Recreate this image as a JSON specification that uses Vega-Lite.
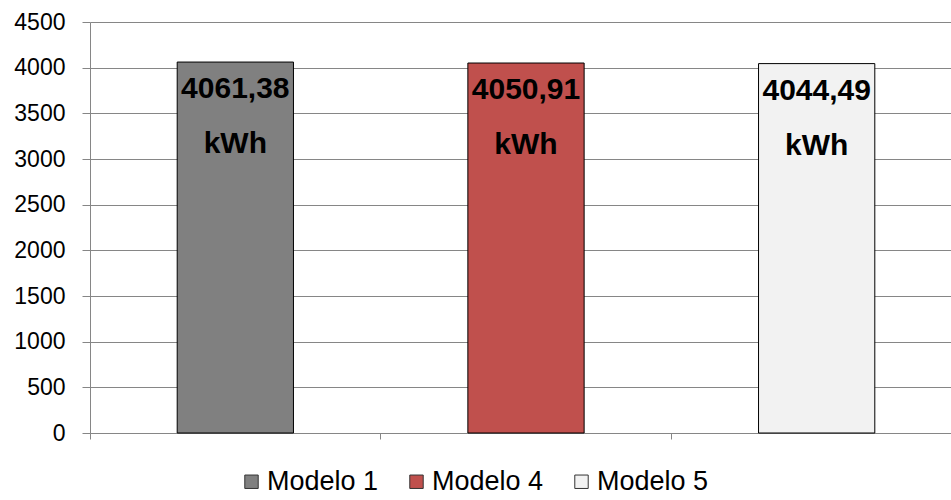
{
  "$schema": "https://vega.github.io/schema/vega-lite/v6.json",
  "autosize": "none",
  "width": 872,
  "height": 411,
  "padding": {"left": 90, "top": 22, "right": 0, "bottom": 67},
  "background": "white",
  "config": {
    "font": "Liberation Sans",
    "view": {"stroke": null}
  },
  "data": {
    "values": [
      {"modelo": "Modelo 1", "kwh": 4061.38, "label": "4061,38"},
      {"modelo": "Modelo 4", "kwh": 4050.91, "label": "4050,91"},
      {"modelo": "Modelo 5", "kwh": 4044.49, "label": "4044,49"}
    ]
  },
  "encoding": {
    "x": {
      "field": "modelo",
      "type": "nominal",
      "sort": null,
      "scale": {"paddingInner": 0, "paddingOuter": 0},
      "axis": {
        "title": null,
        "labels": false,
        "bandPosition": 0,
        "domainColor": "#868686",
        "tickColor": "#868686",
        "tickSize": 6,
        "grid": false
      }
    },
    "y": {
      "field": "kwh",
      "type": "quantitative",
      "scale": {"domain": [0, 4500], "nice": false},
      "axis": {
        "title": null,
        "values": [0, 500, 1000, 1500, 2000, 2500, 3000, 3500, 4000, 4500],
        "format": "d",
        "labelFontSize": 23,
        "labelColor": "#000000",
        "labelPadding": 17,
        "tickSize": 8,
        "tickColor": "#868686",
        "domainColor": "#868686",
        "gridColor": "#868686",
        "gridWidth": 1
      }
    }
  },
  "layer": [
    {
      "mark": {"type": "bar", "width": {"band": 0.4}, "stroke": "#000000", "strokeWidth": 1},
      "encoding": {
        "color": {
          "field": "modelo",
          "type": "nominal",
          "sort": null,
          "scale": {
            "domain": ["Modelo 1", "Modelo 4", "Modelo 5"],
            "range": ["#808080", "#C0504D", "#F2F2F2"]
          },
          "legend": {
            "title": null,
            "orient": "none",
            "legendX": 148,
            "legendY": 446,
            "direction": "horizontal",
            "columns": 3,
            "symbolType": "square",
            "symbolSize": 180,
            "symbolStrokeColor": "#333333",
            "symbolStrokeWidth": 1,
            "labelFontSize": 27,
            "labelColor": "#000000",
            "labelOffset": 2,
            "columnPadding": 24,
            "labelLimit": 200
          }
        }
      }
    },
    {
      "mark": {
        "type": "text",
        "fontWeight": "bold",
        "fontSize": 30,
        "color": "#000000",
        "baseline": "middle",
        "align": "center",
        "dy": 27
      },
      "encoding": {
        "text": {"field": "label", "type": "nominal"}
      }
    },
    {
      "mark": {
        "type": "text",
        "fontWeight": "bold",
        "fontSize": 30,
        "color": "#000000",
        "baseline": "middle",
        "align": "center",
        "dy": 82
      },
      "encoding": {
        "text": {"value": "kWh"}
      }
    }
  ]
}
